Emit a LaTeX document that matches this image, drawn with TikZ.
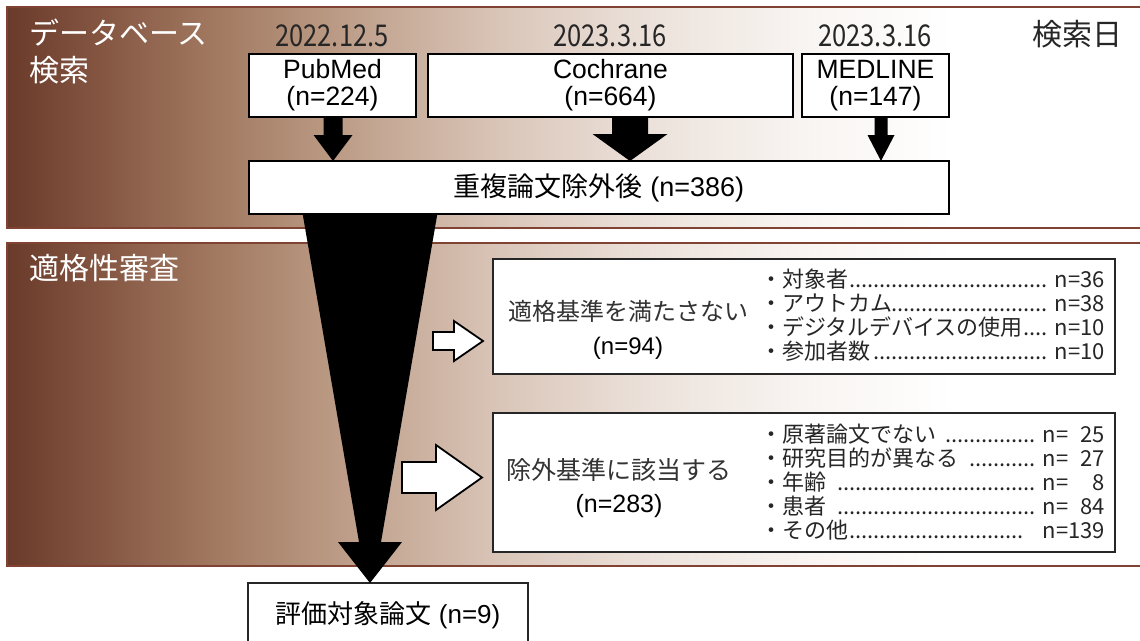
\documentclass[tikz,border=0pt]{standalone}
\usepackage{fontspec}
\setmainfont{Liberation Sans}
\newfontfamily\jp{Noto Sans CJK JP}
\newfontfamily\jpc{Noto Sans CJK JP}[FakeStretch=0.85]
\usetikzlibrary{calc}

\definecolor{b0}{RGB}{106,58,42}
\definecolor{b1}{RGB}{132,86,66}
\definecolor{b2}{RGB}{158,116,92}
\definecolor{b3}{RGB}{180,145,122}
\definecolor{b4}{RGB}{200,172,154}
\definecolor{b5}{RGB}{218,198,185}
\definecolor{b6}{RGB}{236,226,219}
\definecolor{b7}{RGB}{248,244,241}
\definecolor{bandline}{RGB}{128,66,50}

\pgfdeclarehorizontalshading{bandshade}{100bp}{color(0bp)=(b0); color(25bp)=(b0); color(29.1bp)=(b1); color(33.5bp)=(b2); color(37.9bp)=(b3); color(42.3bp)=(b4); color(46.8bp)=(b5); color(53.4bp)=(b6); color(60bp)=(b7); color(66.6bp)=(white); color(100bp)=(white)}

\newcommand\mydots{\leaders\hbox to 6pt{\hss.\hss}\hfill}
\newcommand\numbox[1]{\hphantom{139}\llap{#1}}

% down block arrow: start, end, shaft half width, head half width, head length
\newcommand\dnarrow[5]{\fill[black] let \p1=(#1), \p2=(#2) in
  (\x1-#3pt,\y1) -- (\x1+#3pt,\y1) -- (\x1+#3pt,\y2+#5pt) -- (\x1+#4pt,\y2+#5pt)
  -- (\x1,\y2) -- (\x1-#4pt,\y2+#5pt) -- (\x1-#3pt,\y2+#5pt) -- cycle;}
% funnel: start, end, top half width, bottom shaft half width, head half width, head length
\newcommand\funnel[6]{\fill[black] let \p1=(#1), \p2=(#2) in
  (\x1-#3pt,\y1) -- (\x1+#3pt,\y1) -- (\x1+#4pt,\y2+#6pt) -- (\x1+#5pt,\y2+#6pt)
  -- (\x1,\y2) -- (\x1-#5pt,\y2+#6pt) -- (\x1-#4pt,\y2+#6pt) -- cycle;}
% right hollow block arrow: start, tip, shaft half height, head half height, head length
\newcommand\rtarrow[5]{\filldraw[fill=white, draw=black, line width=1.8pt, line join=miter] let \p1=(#1), \p2=(#2) in
  (\x1,\y1+#3pt) -- (\x2-#5pt,\y1+#3pt) -- (\x2-#5pt,\y1+#4pt) -- (\x2,\y1)
  -- (\x2-#5pt,\y1-#4pt) -- (\x2-#5pt,\y1-#3pt) -- (\x1,\y1-#3pt) -- cycle;}

\begin{document}
\begin{tikzpicture}[x=1pt,y=-1pt,
  dbbox/.style={draw=black, line width=2.2pt, fill=white, inner sep=0pt, outer sep=0pt, text=black},
  exbox/.style={draw=black!85, line width=1.5pt, fill=white, inner sep=0pt, outer sep=0pt},
  finbox/.style={draw=black!85, line width=1.5pt, fill=white, inner sep=0pt, outer sep=0pt, text=black, font=\fontsize{26}{28}\selectfont},
  bandlab/.style={text=white, font=\jp\fontsize{30}{37}\selectfont, inner sep=0pt, align=left},
  datef/.style={text=black!85, font=\jpc\fontsize{30}{32}\selectfont, inner sep=0pt},
  extext/.style={align=center, inner sep=0pt, text=black},
  listtext/.style={align=left, inner sep=0pt, text=black!85, font=\jp\fontsize{22}{24}\selectfont}]
\useasboundingbox (0,0) rectangle (1140,640);
\fill[white] (0,0) rectangle (1140,640);

% bands
\path[shading=bandshade, draw=bandline, line width=1.5pt] (7,7) rectangle (1142,228);
\path[shading=bandshade, draw=bandline, line width=1.5pt] (7,243) rectangle (1142,566);

% band labels
\node[bandlab, anchor=west] (lab1) at (29,51.5) {データベース\\検索};
\node[bandlab, anchor=west] (lab2) at (29,268) {適格性審査};
\node[inner sep=0pt, text=black!85, font=\jp\fontsize{30}{32}\selectfont] (lab3) at (1077,34) {検索日};

% dates
\node[datef] (d1) at (332,36) {2022.12.5};
\node[datef] (d2) at (610,36) {2023.3.16};
\node[datef] (d3) at (875,36) {2023.3.16};

% database boxes
\node[dbbox, align=center, font=\fontsize{26.5}{27}\selectfont, minimum width=167, minimum height=63] (pub) at (332.5,85.5) {PubMed\\(n=224)};
\node[dbbox, align=center, font=\fontsize{26.5}{27}\selectfont, minimum width=365, minimum height=63] (coch) at (610.5,85.5) {Cochrane\\(n=664)};
\node[dbbox, align=center, font=\fontsize{26.5}{27}\selectfont, minimum width=147, minimum height=63] (med) at (875.5,85.5) {MEDLINE\\(n=147)};
\node[dbbox, font=\fontsize{27}{29}\selectfont, minimum width=700, minimum height=53] (dd) at (599,187.5) {{\jp 重複論文除外後} (n=386)\hspace{22pt}};

% arrows into dedupe box
\coordinate (a1) at ($(pub.south)+(0.5,0)$);
\coordinate (a2) at ($(coch.south)+(19.5,0)$);
\coordinate (a3) at ($(med.south)+(5.5,0)$);
\dnarrow{a1}{a1 |- dd.north}{9.5}{19.5}{26}
\dnarrow{a2}{a2 |- dd.north}{18}{37.5}{27}
\dnarrow{a3}{a3 |- dd.north}{6.5}{13.5}{26}

% exclusion boxes
\node[exbox, minimum width=622, minimum height=115] (ex1) at (804,316.5) {};
\node[exbox, minimum width=622, minimum height=139] (ex2) at (804,482.5) {};

\node[extext, font=\fontsize{24}{34}\selectfont] (ex1t) at (628,330) {{\jp\color{black!80}適格基準を満たさない}\\(n=94)};
\node[extext, font=\fontsize{25}{33}\selectfont] (ex2t) at (619,488.5) {{\jp\color{black!80}除外基準に該当する}\\(n=283)};

\node[listtext] (ex1l) at (932.5,315) {%
\hbox to 345pt{・対象者\mydots\ n=36}\\
\hbox to 345pt{・アウトカム\mydots\ n=38}\\
\hbox to 345pt{・デジタルデバイスの使用\mydots\ n=10}\\
\hbox to 345pt{・参加者数\mydots\ n=10}};

\node[listtext] (ex2l) at (932.5,482) {%
\hbox to 345pt{・原著論文でない\ \ \mydots\ n=\numbox{25}}\\
\hbox to 345pt{・研究目的が異なる\ \ \mydots\ n=\numbox{27}}\\
\hbox to 345pt{・年齢\ \ \mydots\ n=\numbox{8}}\\
\hbox to 345pt{・患者\ \ \mydots\ n=\numbox{84}}\\
\hbox to 345pt{・その他\mydots\hspace{14pt}n=\numbox{139}}};

% final box
\node[finbox, minimum width=280, minimum height=64] (fin) at (388,615) {{\jp 評価対象論文} (n=9)};

% funnel
\coordinate (ft) at (370,213);
\funnel{ft}{ft |- fin.north}{67.5}{11}{32}{41}

% hollow arrows
\coordinate (w1) at (433,341);
\coordinate (w2) at (402,477.5);
\rtarrow{w1}{$(w1 -| ex1.west)+(-10,0)$}{9}{20}{29}
\rtarrow{w2}{$(w2 -| ex2.west)+(-11,0)$}{15.5}{32.5}{46}
\end{tikzpicture}
\end{document}
